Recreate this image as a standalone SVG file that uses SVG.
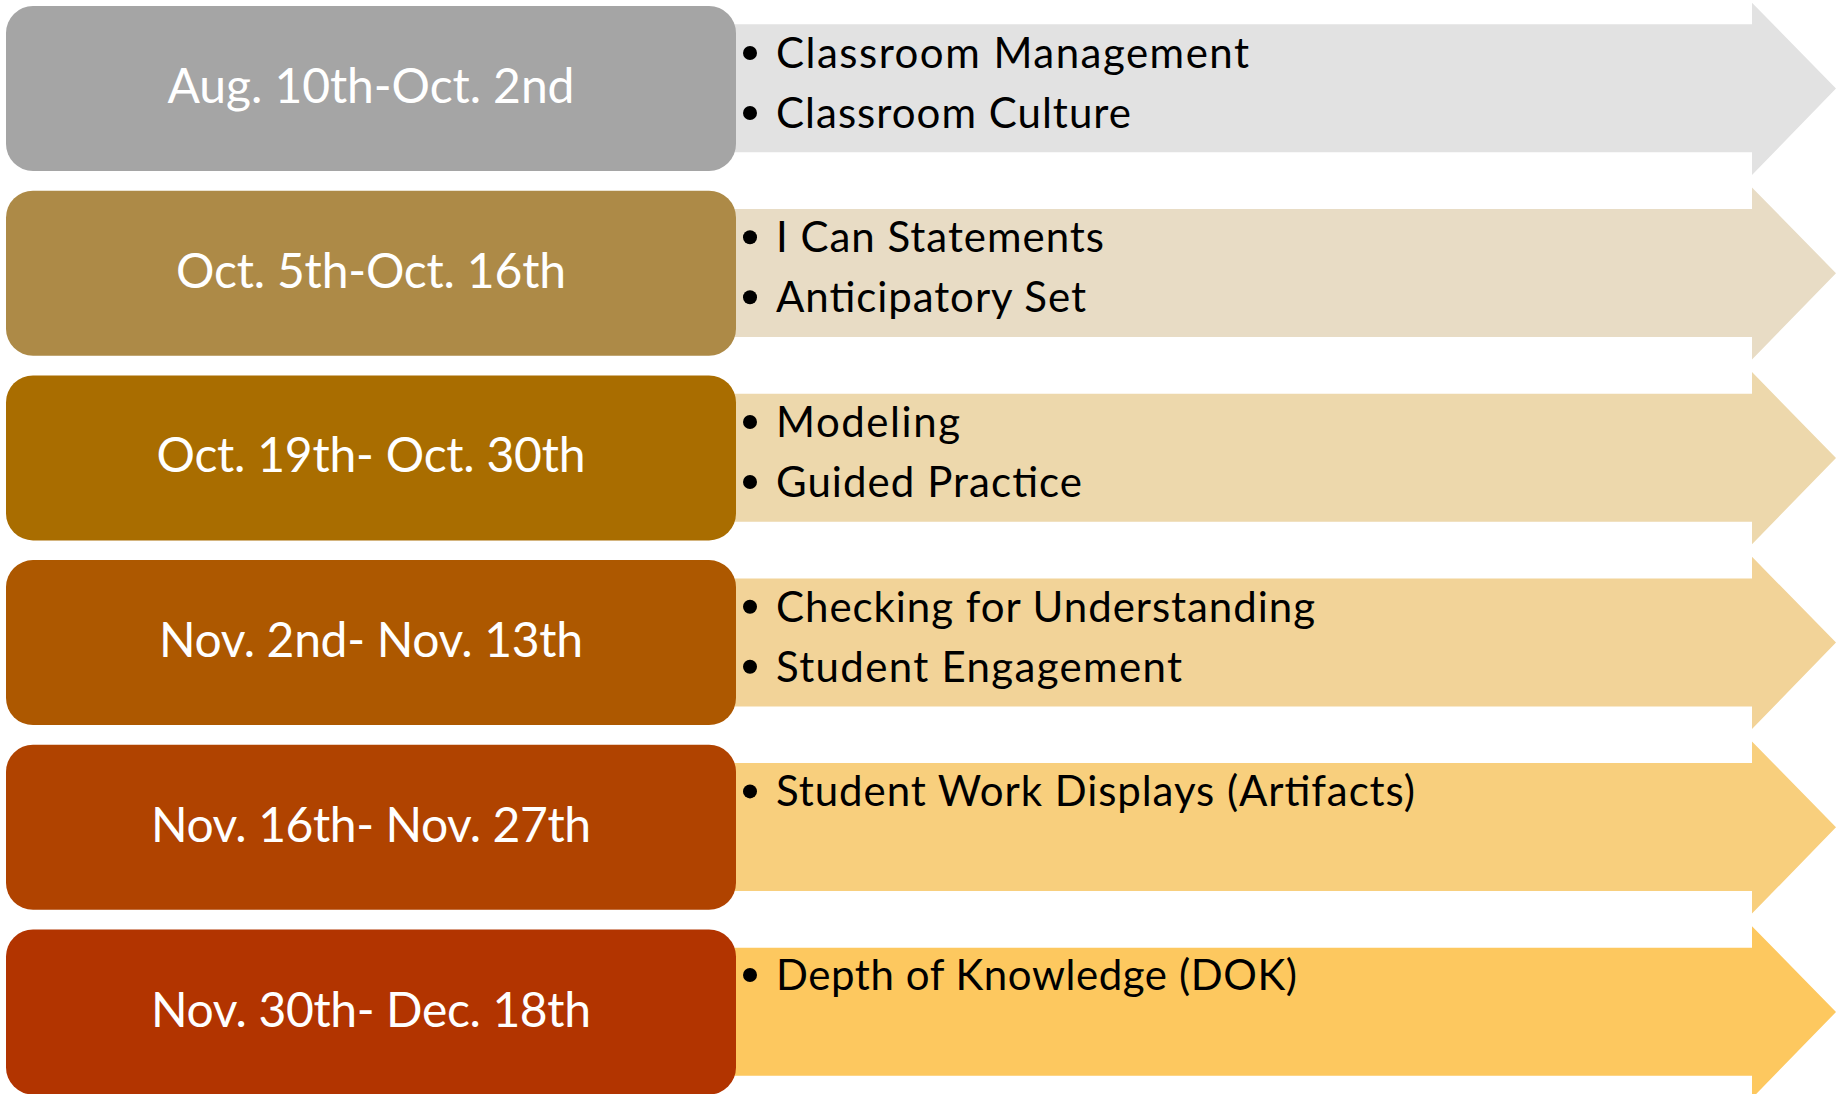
<svg xmlns="http://www.w3.org/2000/svg" width="1836" height="1094" viewBox="0 0 1836 1094">
<style>
.date{font-family:Lato,"Open Sans","Liberation Sans",sans-serif;font-size:48px;fill:#fff;text-anchor:middle}
.item{font-family:Lato,"Open Sans","Liberation Sans",sans-serif;font-size:42px;fill:#000}
.dot{fill:#000}
</style>
<rect width="1836" height="1094" fill="#fff"/>
<g id="arrows">
<polygon fill="#E2E2E2" points="720,24.3 1752,24.3 1752,2.7 1836,88.5 1752,175 1752,152.3 720,152.3"/>
<polygon fill="#E8DCC5" points="720,209 1752,209 1752,187.4 1836,273.2 1752,359.5 1752,337 720,337"/>
<polygon fill="#EDD8AC" points="720,393.7 1752,393.7 1752,372.1 1836,457.9 1752,544.2 1752,521.7 720,521.7"/>
<polygon fill="#F2D398" points="720,578.4 1752,578.4 1752,556.8 1836,642.6 1752,728.9 1752,706.4 720,706.4"/>
<polygon fill="#F8CF7D" points="720,763.1 1752,763.1 1752,741.5 1836,827.3 1752,913.6 1752,891.1 720,891.1"/>
<polygon fill="#FDC85F" points="720,947.8 1752,947.8 1752,926.2 1836,1012 1752,1098.3 1752,1075.8 720,1075.8"/>
</g>
<g id="node1">
<rect x="6" y="6" width="730" height="165" rx="27" fill="#A5A5A5"/>
<text class="date" x="371" y="103" textLength="407">Aug. 10th-Oct. 2nd</text>
<circle class="dot" cx="750" cy="53" r="7"/><text class="item" x="776" y="67.6" textLength="473">Classroom Management</text>
<circle class="dot" cx="750" cy="113" r="7"/><text class="item" x="776" y="127.6" textLength="355">Classroom Culture</text>
</g>
<g id="node2">
<rect x="6" y="190.7" width="730" height="165" rx="27" fill="#AD8A47"/>
<text class="date" x="371" y="287.7" textLength="390">Oct. 5th-Oct. 16th</text>
<circle class="dot" cx="750" cy="237.3" r="7"/><text class="item" x="776" y="252.3" textLength="328">I Can Statements</text>
<circle class="dot" cx="750" cy="297.3" r="7"/><text class="item" x="776" y="312.3" textLength="310">Anticipatory Set</text>
</g>
<g id="node3">
<rect x="6" y="375.4" width="730" height="165" rx="27" fill="#A96D00"/>
<text class="date" x="371" y="472.4" textLength="429">Oct. 19th- Oct. 30th</text>
<circle class="dot" cx="750" cy="422" r="7"/><text class="item" x="776" y="437" textLength="184">Modeling</text>
<circle class="dot" cx="750" cy="482" r="7"/><text class="item" x="776" y="497" textLength="306">Guided Practice</text>
</g>
<g id="node4">
<rect x="6" y="560.1" width="730" height="165" rx="27" fill="#AD5800"/>
<text class="date" x="371" y="657.1" textLength="424">Nov. 2nd- Nov. 13th</text>
<circle class="dot" cx="750" cy="606.7" r="7"/><text class="item" x="776" y="621.7" textLength="539">Checking for Understanding</text>
<circle class="dot" cx="750" cy="666.7" r="7"/><text class="item" x="776" y="681.7" textLength="406">Student Engagement</text>
</g>
<g id="node5">
<rect x="6" y="744.8" width="730" height="165" rx="27" fill="#B04300"/>
<text class="date" x="371" y="841.8" textLength="440">Nov. 16th- Nov. 27th</text>
<circle class="dot" cx="750" cy="791.4" r="7"/><text class="item" x="776" y="806.4" textLength="639">Student Work Displays (Artifacts)</text>
</g>
<g id="node6">
<rect x="6" y="929.5" width="730" height="165" rx="27" fill="#B23400"/>
<text class="date" x="371" y="1026.5" textLength="440">Nov. 30th- Dec. 18th</text>
<circle class="dot" cx="750" cy="975" r="7"/><text class="item" x="776" y="990" textLength="521">Depth of Knowledge (DOK)</text>
</g>
</svg>
